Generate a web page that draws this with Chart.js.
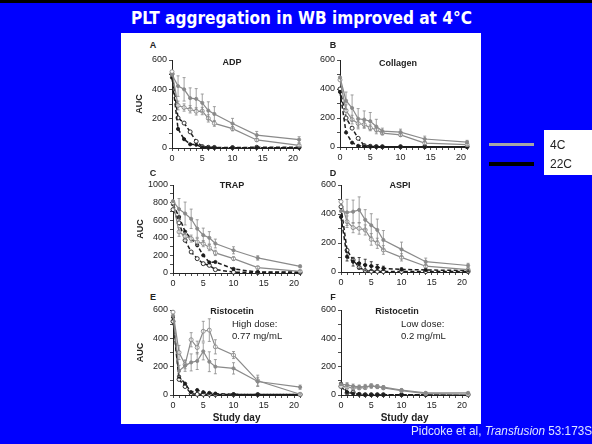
<!DOCTYPE html>
<html><head><meta charset="utf-8">
<script src="https://cdn.jsdelivr.net/npm/chart.js@4.4.1/dist/chart.umd.min.js"></script>
<style>
html,body{margin:0;padding:0;}
body{width:592px;height:444px;background:#0000ff;position:relative;overflow:hidden;font-family:"Liberation Sans",Arial,sans-serif;}
#topbar{position:absolute;left:0;top:0;width:592px;height:3px;background:#000;}
#title{position:absolute;top:7px;left:131px;white-space:nowrap;color:#fff;font-family:"DejaVu Sans Condensed","DejaVu Sans",sans-serif;font-weight:bold;font-size:18px;line-height:22px;transform-origin:0 0;}
#panel{position:absolute;left:121px;top:33px;width:360px;height:391px;background:#fff;}
canvas{position:absolute;}
.t{position:absolute;white-space:nowrap;color:#222;font-size:9px;line-height:10px;}
.b{font-weight:bold;}
.cc{transform:translate(-50%,-50%);}
.lc{transform:translate(0,-50%);}
#lg1{position:absolute;left:489px;top:143px;width:45px;height:3px;background:#a6a6a6;}
#lg2{position:absolute;left:489px;top:162px;width:45px;height:4px;background:#000;}
#lgbox{position:absolute;left:544px;top:130px;width:48px;height:45px;background:#fff;}
.lgt{position:absolute;left:550px;font-size:12px;color:#222;transform:translate(0,-50%);}
#cite{position:absolute;top:424px;left:411px;white-space:nowrap;color:#dfe6ff;font-size:12px;line-height:14px;transform-origin:0 0;}
</style></head>
<body>
<div id="topbar"></div>
<div id="title">PLT aggregation in WB improved at 4°C</div>
<div id="panel"></div>

<canvas id="cA"></canvas><canvas id="cB"></canvas><canvas id="cC"></canvas>
<canvas id="cD"></canvas><canvas id="cE"></canvas><canvas id="cF"></canvas>

<div class="t b cc" style="left:153px;top:45px">A</div>
<div class="t b cc" style="left:232px;top:62px">ADP</div>
<div class="t b cc" style="left:333px;top:45px">B</div>
<div class="t b cc" style="left:398px;top:63px">Collagen</div>
<div class="t b cc" style="left:153px;top:173px">C</div>
<div class="t b cc" style="left:232px;top:185px">TRAP</div>
<div class="t b cc" style="left:333px;top:173px">D</div>
<div class="t b cc" style="left:400px;top:185px">ASPI</div>
<div class="t b cc" style="left:153px;top:297px">E</div>
<div class="t b cc" style="left:232px;top:311px">Ristocetin</div>
<div class="t lc" style="left:232px;top:324px;font-size:9.5px">High dose:</div>
<div class="t lc" style="left:232px;top:336px;font-size:9.5px">0.77 mg/mL</div>
<div class="t b cc" style="left:333px;top:297px">F</div>
<div class="t b cc" style="left:397px;top:311px">Ristocetin</div>
<div class="t lc" style="left:401px;top:324px;font-size:9.5px">Low dose:</div>
<div class="t lc" style="left:401px;top:336px;font-size:9.5px">0.2 mg/mL</div>

<div id="lg1"></div><div id="lg2"></div><div id="lgbox"></div>
<div class="lgt" style="top:145px">4C</div>
<div class="lgt" style="top:164px">22C</div>
<div id="cite">Pidcoke et al, <i>Transfusion</i> 53:173S</div>

<script>
// ---- data ----
const days = [0,1,2,3,4,5,6,7,10,14,21];
const seriesNames = ['4C filled','4C open','22C filled','22C open'];

// A: ADP
const adp4F  = [500,422,400,340,335,308,255,232,167,88,57];
const adp4O  = [520,290,276,264,250,252,202,168,132,55,18];
const adp22F = [480,130,60,25,22,5,3,2,2,2,2];
const adp22O = [505,205,170,110,45,10,5,4,3,5,5];
const adpE4F = [0,70,80,70,70,60,60,50,35,25,20];
const adpE4O = [0,30,25,25,25,25,25,20,15,10,8];

// B: Collagen
const col4F  = [480,319,269,195,189,178,141,110,103,55,34];
const col4O  = [463,251,189,162,155,132,119,96,84,27,16];
const col22F = [380,100,30,8,5,3,2,2,2,2,2];
const col22O = [400,200,130,60,10,5,3,2,2,2,2];
const colE4F = [0,60,90,70,60,60,50,20,20,20,12];
const colE4O = [0,40,30,25,20,20,15,12,12,10,8];

// C: TRAP
const trap4F  = [817,726,676,616,505,430,400,335,258,171,76];
const trap4O  = [800,467,418,391,353,334,289,228,163,61,19];
const trap22F = [780,638,470,391,315,201,120,125,46,10,10];
const trap22O = [720,570,372,239,163,106,87,38,10,5,5];
const trapE4F = [0,120,130,110,100,80,70,50,40,25,15];
const trapE4O = [0,50,40,40,40,35,35,30,20,15,10];

// D: ASPI
const aspi4F  = [420,411,416,428,360,322,290,221,156,71,45];
const aspi4O  = [485,347,306,301,290,225,198,152,101,40,16];
const aspi22F = [380,106,71,60,48,41,32,25,18,14,10];
const aspi22O = [450,150,83,32,9,5,4,3,3,3,3];
const aspiE4F = [0,90,80,90,70,80,75,65,50,25,15];
const aspiE4O = [0,40,35,40,35,40,35,30,25,15,10];
const aspiE22F = [0,30,30,40,40,30,20,15,10,8,5];

// E: Ristocetin high dose
const risH4F  = [560,170,207,230,240,308,235,200,188,95,55];
const risH4O  = [585,300,215,390,335,450,458,340,282,100,5];
const risH22F = [550,130,80,20,35,20,15,10,5,3,3];
const risH22O = [520,110,60,10,5,5,5,3,3,3,3];
const risHE4F = [0,40,40,60,60,60,70,50,40,30,15];
const risHE4O = [0,50,30,50,45,70,80,50,25,40,5];

// F: Ristocetin low dose
const risL4F  = [75,72,62,58,60,62,57,55,35,15,15];
const risL4O  = [62,55,50,50,52,65,60,50,30,10,5];
const risL22F = [80,20,10,5,2,2,2,2,2,2,2];
const risL22O = [60,15,20,5,2,2,2,2,2,2,2];
const risLE4F = [0,15,15,12,15,15,12,12,10,8,6];
const risLE4O = [0,12,12,12,12,12,12,10,8,6,5];

// ---- rendering ----
const FONT = '"Liberation Sans", Arial, sans-serif';
const GRAY = '#8a8a8a', DARK = '#1c1c1c';

const errorBars = {
  id: 'errorBars',
  afterDatasetsDraw(chart) {
    const ctx = chart.ctx, ys = chart.scales.y;
    chart.data.datasets.forEach((ds, i) => {
      if (!ds.errors) return;
      const meta = chart.getDatasetMeta(i);
      ctx.save();
      ctx.strokeStyle = ds.borderColor; ctx.lineWidth = 0.8; ctx.setLineDash([]);
      meta.data.forEach((pt, j) => {
        const e = ds.errors[j]; if (!e) return;
        const v = ds.data[j].y;
        const y1 = ys.getPixelForValue(v + e), y2 = ys.getPixelForValue(Math.max(0, v - e));
        ctx.beginPath();
        ctx.moveTo(pt.x, y1); ctx.lineTo(pt.x, y2);
        ctx.moveTo(pt.x - 1.5, y1); ctx.lineTo(pt.x + 1.5, y1);
        ctx.moveTo(pt.x - 1.5, y2); ctx.lineTo(pt.x + 1.5, y2);
        ctx.stroke();
      });
      ctx.restore();
    });
  }
};

function xy(vals) { return vals.map((v, i) => ({x: days[i], y: v})); }

function ds(vals, label, warm, open, errs) {
  const c = warm ? GRAY : DARK;
  return {
    label, data: xy(vals), errors: errs || null,
    borderColor: c, borderWidth: warm ? 1.2 : 1.5, borderDash: warm ? [] : [4, 2.5],
    pointRadius: open ? 2 : 1.6, pointBorderWidth: 0.9,
    pointBackgroundColor: open ? '#fff' : c, pointBorderColor: c,
    tension: 0, clip: false
  };
}

function makeChart(id, left, top, areaH, ymax, sets, yTitle, xTitle) {
  const yw = 42, padTop = 8, padRight = 4, areaW = 128;
  const xh = xTitle ? 30 : 16;
  const cv = document.getElementById(id);
  cv.width = yw + areaW + padRight; cv.height = padTop + areaH + xh;
  cv.style.left = (left - yw) + 'px'; cv.style.top = (top - padTop) + 'px';
  const tickFont = {family: FONT, size: 9};
  new Chart(cv, {
    type: 'line',
    data: {datasets: sets},
    plugins: [errorBars],
    options: {
      responsive: false, animation: false, devicePixelRatio: 1,
      layout: {padding: {top: padTop, right: padRight, left: 0, bottom: 0}},
      plugins: {legend: {display: false}, tooltip: {enabled: false}},
      scales: {
        x: {
          type: 'linear', min: 0, max: 21,
          afterBuildTicks: s => { s.ticks = []; for (let d = 0; d <= 21; d++) s.ticks.push({value: d}); },
          ticks: {autoSkip: false, maxRotation: 0, padding: 2, font: tickFont, color: '#222',
                  callback: v => (v % 5 === 0 ? String(v) : '')},
          grid: {drawOnChartArea: false, drawTicks: true, tickLength: 3, color: '#222', lineWidth: 0.8},
          border: {color: '#222', width: 1},
          title: {display: !!xTitle, text: 'Study day', color: '#222', font: {family: FONT, size: 10, weight: 'bold'}, padding: {top: 0, bottom: 1}},
          afterFit: s => { s.height = xh; }
        },
        y: {
          min: 0, max: ymax,
          afterBuildTicks: s => { s.ticks = []; for (let v = 0; v <= ymax; v += 100) s.ticks.push({value: v}); },
          ticks: {autoSkip: false, padding: 2, font: tickFont, color: '#222',
                  callback: v => (v % 200 === 0 ? String(v) : '')},
          grid: {drawOnChartArea: false, drawTicks: true, tickLength: 3, color: '#222', lineWidth: 0.8},
          border: {color: '#222', width: 1},
          title: {display: !!yTitle, text: 'AUC', color: '#222', font: {family: FONT, size: 9, weight: 'bold'}, padding: {top: 4, bottom: 0}},
          afterFit: s => { s.width = yw; }
        }
      }
    }
  });
}

makeChart('cA', 172, 60, 88, 600, [
  ds(adp4F, seriesNames[0], true, false, adpE4F), ds(adp4O, seriesNames[1], true, true, adpE4O),
  ds(adp22F, seriesNames[2], false, false), ds(adp22O, seriesNames[3], false, true)], true, false);
makeChart('cB', 340, 60, 87, 600, [
  ds(col4F, seriesNames[0], true, false, colE4F), ds(col4O, seriesNames[1], true, true, colE4O),
  ds(col22F, seriesNames[2], false, false), ds(col22O, seriesNames[3], false, true)], false, false);
makeChart('cC', 173, 185, 88, 1000, [
  ds(trap4F, seriesNames[0], true, false, trapE4F), ds(trap4O, seriesNames[1], true, true, trapE4O),
  ds(trap22F, seriesNames[2], false, false), ds(trap22O, seriesNames[3], false, true)], true, false);
makeChart('cD', 341, 185, 87, 600, [
  ds(aspi4F, seriesNames[0], true, false, aspiE4F), ds(aspi4O, seriesNames[1], true, true, aspiE4O),
  ds(aspi22F, seriesNames[2], false, false, aspiE22F), ds(aspi22O, seriesNames[3], false, true)], false, false);
makeChart('cE', 173, 310, 85, 600, [
  ds(risH4F, seriesNames[0], true, false, risHE4F), ds(risH4O, seriesNames[1], true, true, risHE4O),
  ds(risH22F, seriesNames[2], false, false), ds(risH22O, seriesNames[3], false, true)], true, true);
makeChart('cF', 341, 310, 85, 600, [
  ds(risL4F, seriesNames[0], true, false, risLE4F), ds(risL4O, seriesNames[1], true, true, risLE4O),
  ds(risL22F, seriesNames[2], false, false), ds(risL22O, seriesNames[3], false, true)], false, true);

// fit title and citation widths to the reference
function fitWidth(id, w) {
  const el = document.getElementById(id);
  const r = el.getBoundingClientRect();
  el.style.transform = 'scaleX(' + (w / r.width) + ')';
}
fitWidth('title', 341);
fitWidth('cite', 181);
</script>
</body></html>
